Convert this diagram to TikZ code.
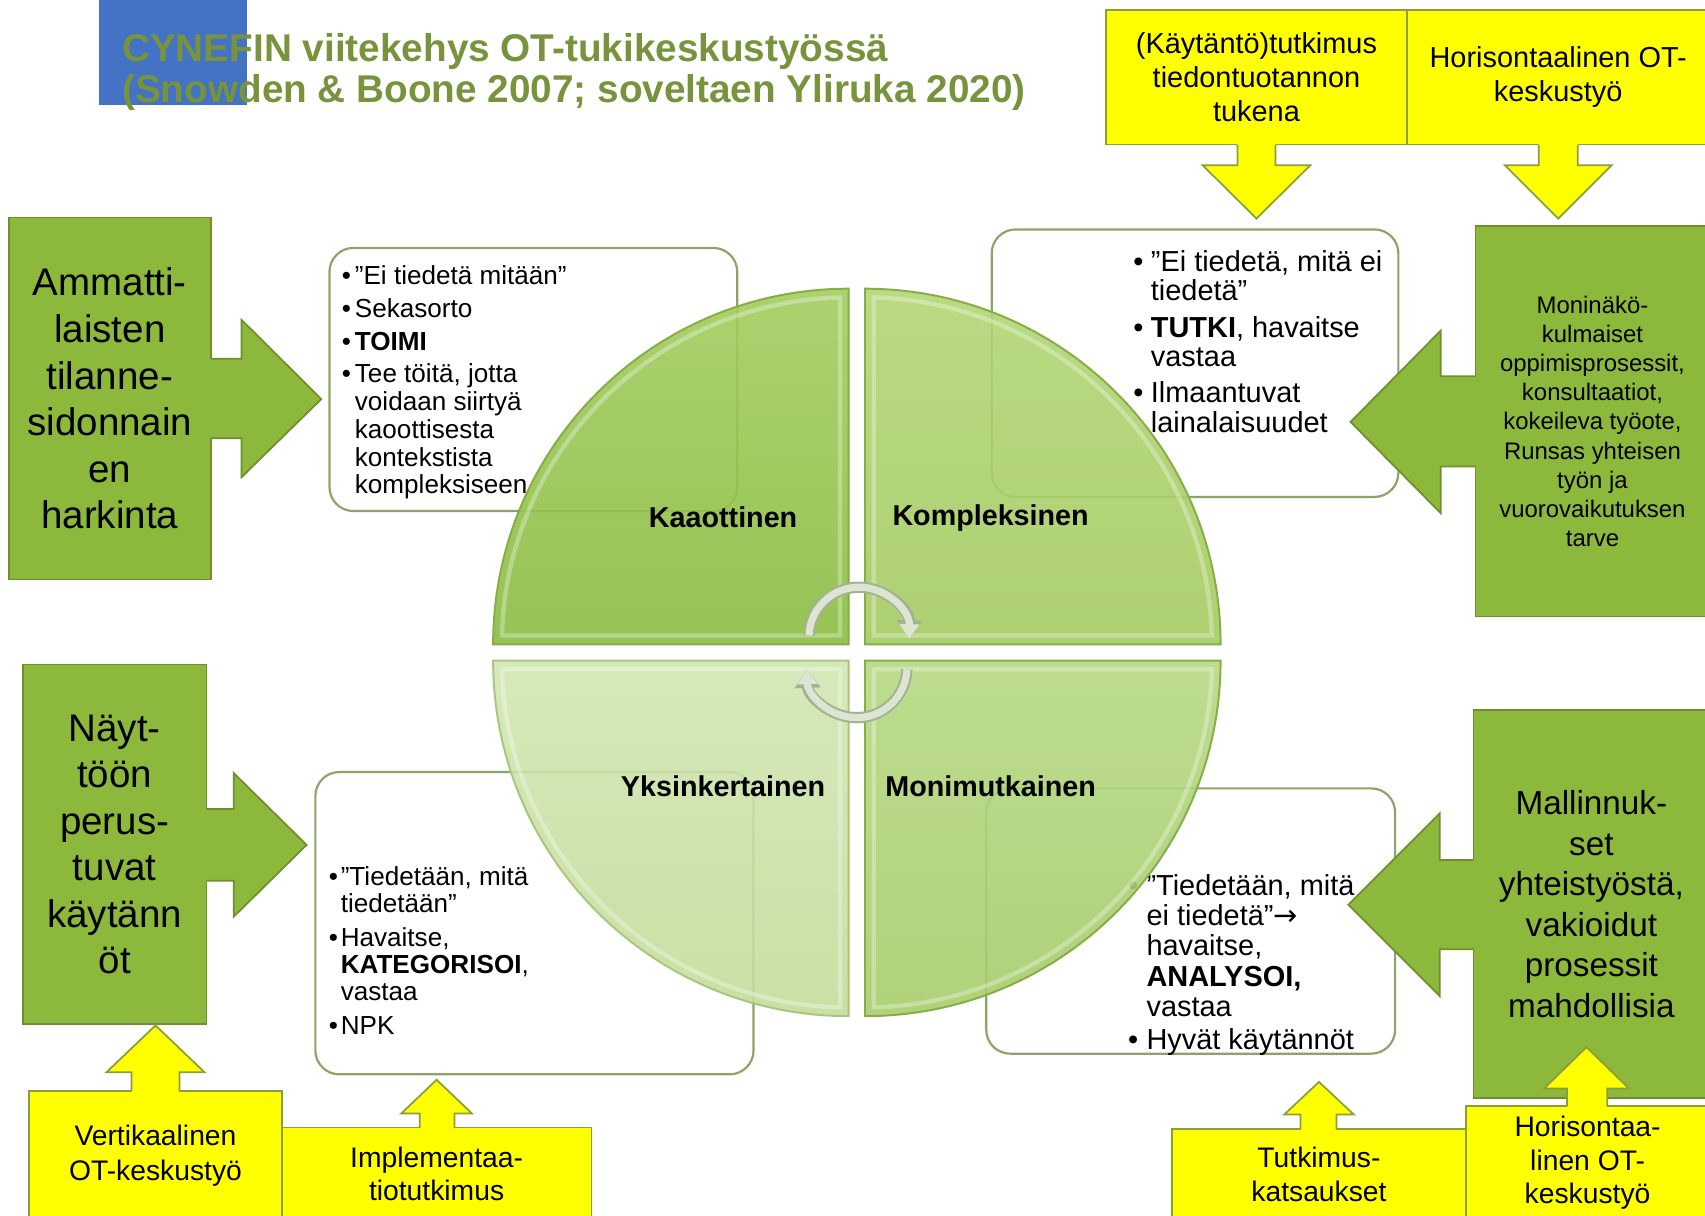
\documentclass[tikz,border=0pt]{standalone}
\usepackage{fontspec}
\setmainfont{Liberation Sans}
\newfontfamily\symfont{DejaVu Sans}
\usetikzlibrary{arrows.meta}
\definecolor{gbox}{HTML}{8CB83C}
\definecolor{gline}{HTML}{6F8F2F}
\definecolor{ybox}{HTML}{FFFF00}
\definecolor{yline}{HTML}{8A9E3A}
\definecolor{ttl}{HTML}{77933C}
\definecolor{blu}{HTML}{4472C4}
\definecolor{rline}{HTML}{8CA468}
\definecolor{qaA}{HTML}{A3CD5F}
\definecolor{qaB}{HTML}{8BBC42}
\definecolor{qbA}{HTML}{B2D675}
\definecolor{qbB}{HTML}{A4CB62}
\definecolor{qcA}{HTML}{D0E6B0}
\definecolor{qcB}{HTML}{C1DC98}
\definecolor{qdA}{HTML}{B6D883}
\definecolor{qdB}{HTML}{A6CD6B}
\definecolor{qrim}{HTML}{86AE45}
\definecolor{cycout}{HTML}{A3B294}
\definecolor{cycin}{HTML}{DCE4D2}
\newcommand\myblt[1]{\makebox[#1][l]{•}}
\newcommand\quadshape{(0,0) -- (0,-327) arc[start angle=-90,end angle=-180,radius=327] -- cycle}
\newcommand\quadinner{(-8,-8) -- (-8,-318.9) arc[start angle=-91.44,end angle=-178.56,radius=319] -- cycle}
\begin{document}
\begin{tikzpicture}[x=0.5pt,y=-0.5pt,
  gbx/.style={draw=gline, line width=0.8pt, fill=gbox, inner sep=0pt, align=center},
  ybx/.style={draw=yline, line width=0.8pt, fill=ybox, inner sep=0pt, align=center, font=\fontsize{13.3}{15.5}\selectfont},
  rbx/.style={draw=rline, line width=1pt, fill=white, rounded corners=11pt, inner sep=0pt},
  btxt/.style={anchor=north west, inner sep=0pt, align=left},
  garrow/.style={fill=gbox},
  garrowline/.style={draw=gline, line width=0.8pt},
  yarrow/.style={fill=ybox},
  yarrowline/.style={draw=yline, line width=0.8pt},
  qlab/.style={font=\fontsize{13.2}{15}\selectfont\bfseries, inner sep=0pt},
  cycA/.style={line width=5.2pt, color=cycout, -{Triangle[length=8.5pt,width=11.5pt]}},
  cycB/.style={line width=3.3pt, color=cycin, -{Triangle[length=6.8pt,width=8.8pt]}}
]
\useasboundingbox (0,0) rectangle (1568,1118);

% title
\node[fill=blu, minimum width=68pt, minimum height=48pt, inner sep=0pt, anchor=north west] (bluerect) at (91,0) {};
\node[anchor=north west, inner sep=0pt, align=left, text=ttl, font=\fontsize{17.8}{19}\selectfont\bfseries] (title) at (112,30)
  {CYNEFIN viitekehys OT-tukikeskustyössä\\(Snowden \& Boone 2007; soveltaen Yliruka 2020)};

% top yellow boxes
\node[ybx, minimum width=138.5pt, minimum height=62pt] (ya) at (1155.5,71) {(Käytäntö)tutkimus\\tiedontuotannon\\tukena};
\node[ybx, minimum width=139pt, minimum height=62pt] (yb) at (1433,71) {Horisontaalinen OT-\\keskustyö};
\fill[yarrow] (1138,132) -- (1138,152) -- (1106,152) -- (1155.5,201) -- (1205,152) -- (1173,152) -- (1173,132) -- cycle;
\draw[yarrowline] (1138,133.5) -- (1138,152) -- (1106,152) -- (1155.5,201) -- (1205,152) -- (1173,152) -- (1173,133.5);
\fill[yarrow] (1415,132) -- (1415,152) -- (1384,152) -- (1433,201) -- (1482,152) -- (1451,152) -- (1451,132) -- cycle;
\draw[yarrowline] (1415,133.5) -- (1415,152) -- (1384,152) -- (1433,201) -- (1482,152) -- (1451,152) -- (1451,133.5);

% green boxes
\node[gbx, minimum width=93pt, minimum height=166.5pt, font=\fontsize{17.7}{21.4}\selectfont] (amm) at (101,366.5)
  {Ammatti-\\laisten\\tilanne-\\sidonnain\\en\\harkinta};
\node[gbx, minimum width=84.5pt, minimum height=165.5pt, font=\fontsize{17.7}{21.4}\selectfont] (nayt) at (105.5,776.5)
  {Näyt-\\töön\\perus-\\tuvat\\käytänn\\öt};
\node[gbx, minimum width=107.5pt, minimum height=179.5pt, font=\fontsize{11}{13.4}\selectfont] (monin) at (1464.5,387.5)
  {Moninäkö-\\kulmaiset\\oppimisprosessit,\\konsultaatiot,\\kokeileva työote,\\Runsas yhteisen\\työn ja\\vuorovaikutuksen\\tarve};
\node[gbx, minimum width=108.5pt, minimum height=178.5pt, font=\fontsize{15.3}{18.6}\selectfont] (mall) at (1463.5,831.5)
  {Mallinnuk-\\set\\yhteistyöstä,\\vakioidut\\prosessit\\mahdollisia};

% rounded text boxes
\node[rbx, minimum width=187.5pt, minimum height=121pt] (bka) at (490.5,349) {};
\node[btxt, font=\fontsize{12}{12.75}\selectfont] (tka) at (314,244)
  {\myblt{6pt}”Ei tiedetä mitään”\\[2.3pt]
   \myblt{6pt}Sekasorto\\[2.3pt]
   \myblt{6pt}\textbf{TOIMI}\\[2.3pt]
   \myblt{6pt}Tee töitä, jotta\\
   \hspace*{6pt}voidaan siirtyä\\
   \hspace*{6pt}kaoottisesta\\
   \hspace*{6pt}kontekstista\\
   \hspace*{6pt}kompleksiseen};

\node[rbx, minimum width=187pt, minimum height=123pt] (bko) at (1099,334) {};
\node[btxt, font=\fontsize{13.3}{13.5}\selectfont] (tko) at (1042,230)
  {\myblt{8pt}”Ei tiedetä, mitä ei\\
   \hspace*{8pt}tiedetä”\\[3.2pt]
   \myblt{8pt}\textbf{TUTKI}, havaitse\\
   \hspace*{8pt}vastaa\\[3.2pt]
   \myblt{8pt}Ilmaantuvat\\
   \hspace*{8pt}lainalaisuudet};

\node[rbx, minimum width=201.5pt, minimum height=139pt] (byk) at (491.5,849) {};
\node[btxt, font=\fontsize{12}{12.25}\selectfont] (tyk) at (302,797)
  {\myblt{5.5pt}”Tiedetään, mitä\\
   \hspace*{5.5pt}tiedetään”\\[3.5pt]
   \myblt{5.5pt}Havaitse,\\
   \hspace*{5.5pt}\textbf{KATEGORISOI},\\
   \hspace*{5.5pt}vastaa\\[3.5pt]
   \myblt{5.5pt}NPK};

\node[rbx, minimum width=188pt, minimum height=122pt] (bmo) at (1095,847) {};
\node[btxt, font=\fontsize{13.3}{13.85}\selectfont] (tmo) at (1037,804)
  {\myblt{8.5pt}”Tiedetään, mitä\\
   \hspace*{8.5pt}ei tiedetä”{\symfont →}\\
   \hspace*{8.5pt}havaitse,\\
   \hspace*{8.5pt}\textbf{ANALYSOI,}\\
   \hspace*{8.5pt}vastaa\\[1.6pt]
   \myblt{8.5pt}Hyvät käytännöt};

% green block arrows (drawn over the text boxes)
\fill[garrow] (192,330) -- (222,330) -- (222,294) -- (295.5,367) -- (222,439) -- (222,403) -- (192,403) -- cycle;
\draw[garrowline] (194,330) -- (222,330) -- (222,294) -- (295.5,367) -- (222,439) -- (222,403) -- (194,403);
\fill[garrow] (188,744) -- (215,744) -- (215,711) -- (282,777) -- (215,843) -- (215,810) -- (188,810) -- cycle;
\draw[garrowline] (190,744) -- (215,744) -- (215,711) -- (282,777) -- (215,843) -- (215,810) -- (190,810);
\fill[garrow] (1359,346) -- (1325,346) -- (1325,304) -- (1242,388) -- (1325,472) -- (1325,429) -- (1359,429) -- cycle;
\draw[garrowline] (1357,346) -- (1325,346) -- (1325,304) -- (1242,388) -- (1325,472) -- (1325,429) -- (1357,429);
\fill[garrow] (1357,791) -- (1324,791) -- (1324,748) -- (1240,832) -- (1324,916) -- (1324,873) -- (1357,873) -- cycle;
\draw[garrowline] (1355,791) -- (1324,791) -- (1324,748) -- (1240,832) -- (1324,916) -- (1324,873) -- (1355,873);

% pie quadrants
\begin{scope}[shift={(780.5,592.5)}]
  \shade[top color=qaA, bottom color=qaB, opacity=0.9] \quadshape;
  \draw[qrim, line width=0.9pt] \quadshape;
  \draw[white, opacity=0.3, line width=2pt] \quadinner;
\end{scope}
\begin{scope}[shift={(795.5,592.5)}, xscale=-1]
  \shade[top color=qbA, bottom color=qbB, opacity=0.9] \quadshape;
  \draw[qrim, line width=0.9pt] \quadshape;
  \draw[white, opacity=0.3, line width=2pt] \quadinner;
\end{scope}
\begin{scope}[shift={(780.5,607.5)}, yscale=-1]
  \shade[top color=qcA, bottom color=qcB, opacity=0.88] \quadshape;
  \draw[qrim!70, line width=0.9pt] \quadshape;
  \draw[white, opacity=0.3, line width=2pt] \quadinner;
\end{scope}
\begin{scope}[shift={(795.5,607.5)}, xscale=-1, yscale=-1]
  \shade[top color=qdA, bottom color=qdB, opacity=0.9] \quadshape;
  \draw[qrim, line width=0.9pt] \quadshape;
  \draw[white, opacity=0.3, line width=2pt] \quadinner;
\end{scope}

\node[qlab] (qka) at (665,476) {Kaaottinen};
\node[qlab] (qko) at (911,476) {Kompleksinen};
\node[qlab] (qyk) at (665,723) {Yksinkertainen};
\node[qlab] (qmo) at (911,723) {Monimutkainen};

% cycle arrows
\coordinate (cyctop) at (744,584.4);
\coordinate (cycbot) at (834,615.6);
\draw[cycA] (cyctop) arc[start angle=-178, end angle=2, radius=46];
\draw[cycB] (cyctop) arc[start angle=-178, end angle=2, radius=46];
\draw[cycA] (cycbot) arc[start angle=2, end angle=178, radius=46];
\draw[cycB] (cycbot) arc[start angle=2, end angle=178, radius=46];

% bottom yellow boxes
\node[ybx, minimum width=116pt, minimum height=59.5pt, font=\fontsize{13}{16}\selectfont] (yv) at (143,1062.5) {Vertikaalinen\\OT-keskustyö};
\fill[yarrow] (121,1005) -- (121,986) -- (98,986) -- (143,943) -- (188,986) -- (165,986) -- (165,1005) -- cycle;
\draw[yarrowline] (121,1003.5) -- (121,986) -- (98,986) -- (143,943) -- (188,986) -- (165,986) -- (165,1003.5);

\node[ybx, minimum width=142.5pt, minimum height=42.5pt, font=\fontsize{13}{15.5}\selectfont] (yi) at (401.5,1079.5) {Implementaa-\\tiotutkimus};
\fill[yarrow] (386,1039) -- (386,1024) -- (369,1024) -- (401.5,993) -- (434,1024) -- (418,1024) -- (418,1039) -- cycle;
\draw[yarrowline] (386,1037.5) -- (386,1024) -- (369,1024) -- (401.5,993) -- (434,1024) -- (418,1024) -- (418,1037.5);

\node[ybx, minimum width=135pt, minimum height=42pt, font=\fontsize{13}{16}\selectfont] (yt) at (1213,1080) {Tutkimus-\\katsaukset};
\fill[yarrow] (1196,1040) -- (1196,1025) -- (1181,1025) -- (1213,995) -- (1245,1025) -- (1229,1025) -- (1229,1040) -- cycle;
\draw[yarrowline] (1196,1038.5) -- (1196,1025) -- (1181,1025) -- (1213,995) -- (1245,1025) -- (1229,1025) -- (1229,1038.5);

\node[ybx, minimum width=112pt, minimum height=52.5pt, font=\fontsize{13}{15.5}\selectfont] (yh) at (1460,1069.5) {Horisontaa-\\linen OT-\\keskustyö};
\fill[yarrow] (1441,1019) -- (1441,1001) -- (1420,1001) -- (1459,963) -- (1498,1001) -- (1478,1001) -- (1478,1019) -- cycle;
\draw[yarrowline] (1441,1017.5) -- (1441,1001) -- (1420,1001) -- (1459,963) -- (1498,1001) -- (1478,1001) -- (1478,1017.5);
\end{tikzpicture}
\end{document}
